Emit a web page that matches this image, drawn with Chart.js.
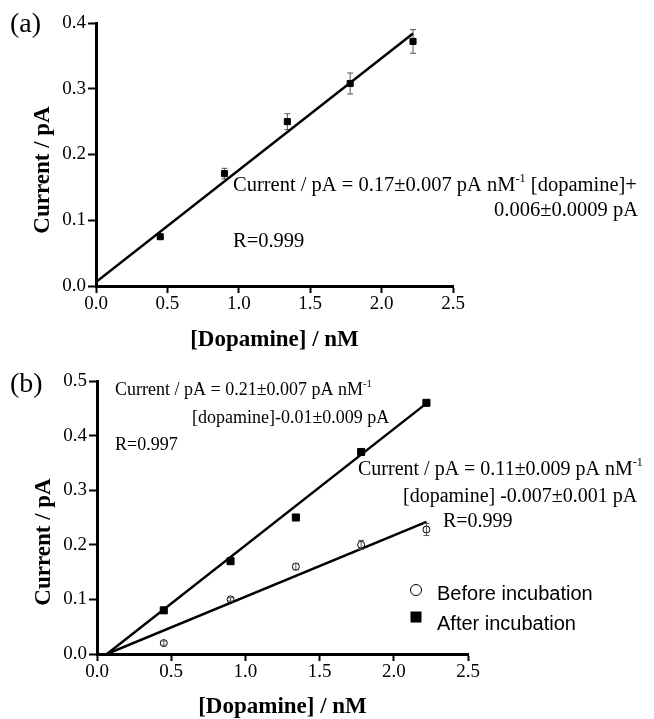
<!DOCTYPE html>
<html>
<head>
<meta charset="utf-8">
<script src="https://cdn.jsdelivr.net/npm/chart.js@4.4.1/dist/chart.umd.min.js"></script>
<style>
  html, body { margin: 0; padding: 0; background: #fff; }
  #wrapA { position: absolute; left: 0; top: 0; width: 654px; height: 360px; }
  #wrapB { position: absolute; left: 0; top: 360px; width: 654px; height: 359px; }
</style>
</head>
<body>
<div id="wrapA"><canvas id="chartA" width="654" height="360"></canvas></div>
<div id="wrapB"><canvas id="chartB" width="654" height="359"></canvas></div>
<script>
// dopamine concentrations (nM)
const conc = [0.45, 0.9, 1.34, 1.78, 2.22];
const xTicks = [0, 0.5, 1.0, 1.5, 2.0, 2.5];

// panel (a)
const currentA = [0.075, 0.171, 0.25, 0.308, 0.372];
const errA = [0.003, 0.008, 0.012, 0.016, 0.018];
const fitAx = [0, 2.22];
const fitAy = [0.006, 0.384];

// panel (b)
const beforeB = [0.02, 0.1, 0.16, 0.2, 0.228];
const errBefore = [0.004, 0.003, 0.006, 0.008, 0.011];
const afterB = [0.08, 0.17, 0.25, 0.37, 0.46];
const errAfter = [0.002, 0.003, 0.003, 0.003, 0.004];
const fitAfterX = [0.067, 2.22];
const fitAfterY = [0, 0.459];
const fitBeforeX = [0.067, 2.22];
const fitBeforeY = [0, 0.242];

const SERIF = '"Liberation Serif", "Times New Roman", serif';
const SANS = '"Liberation Sans", Arial, sans-serif';

function pts(xs, ys) {
    return xs.map((x, i) => ({ x: x, y: ys[i] }));
}

// text with superscript pieces: parts = [[text, isSup], ...]
function richText(ctx, parts, x, y, size, align) {
    ctx.save();
    ctx.textBaseline = 'middle';
    ctx.textAlign = 'left';
    let total = 0;
    parts.forEach(p => {
        ctx.font = (p[1] ? size * 0.6 : size) + 'px ' + SERIF;
        total += ctx.measureText(p[0]).width;
    });
    let cx = align === 'right' ? x - total : x;
    parts.forEach(p => {
        ctx.font = (p[1] ? size * 0.6 : size) + 'px ' + SERIF;
        ctx.fillText(p[0], cx, p[1] ? y - size * 0.35 : y);
        cx += ctx.measureText(p[0]).width;
    });
    ctx.restore();
}

function drawErrors(chart, front) {
    const ctx = chart.ctx;
    const xs = chart.scales.x, ys = chart.scales.y;
    ctx.save();
    ctx.strokeStyle = '#555';
    ctx.lineWidth = 1;
    chart.data.datasets.forEach(ds => {
        if (!ds.errors || !!ds.errorsFront !== front) return;
        ds.data.forEach((p, i) => {
            const px = xs.getPixelForValue(p.x);
            const top = ys.getPixelForValue(p.y + ds.errors[i]);
            const bot = ys.getPixelForValue(p.y - ds.errors[i]);
            ctx.beginPath();
            ctx.moveTo(px, top); ctx.lineTo(px, bot);
            ctx.moveTo(px - 3, top); ctx.lineTo(px + 3, top);
            ctx.moveTo(px - 3, bot); ctx.lineTo(px + 3, bot);
            ctx.stroke();
        });
    });
    ctx.restore();
}

const errorBars = {
    id: 'errorBars',
    beforeDatasetsDraw(chart) { drawErrors(chart, false); },
    afterDatasetsDraw(chart) { drawErrors(chart, true); }
};

const labelsPlugin = {
    id: 'labels',
    afterDraw(chart) {
        const ctx = chart.ctx;
        const o = chart.options.plugins.labels;
        ctx.save();
        ctx.fillStyle = '#000';
        ctx.textBaseline = 'middle';
        // panel letter
        ctx.font = '28px ' + SERIF;
        ctx.textAlign = 'left';
        ctx.fillText(o.letter, 10, 25);
        // y title
        ctx.save();
        ctx.translate(o.yTitle[0], o.yTitle[1]);
        ctx.rotate(-Math.PI / 2);
        ctx.font = 'bold 23px ' + SERIF;
        ctx.textAlign = 'center';
        ctx.fillText('Current / pA', 0, 0);
        ctx.restore();
        o.notes.forEach(n => richText(ctx, n.parts, n.x, n.y, n.size, n.align));
        ctx.restore();
        if (o.legend) {
            ctx.save();
            ctx.lineWidth = 1;
            ctx.strokeStyle = '#000';
            ctx.fillStyle = '#fff';
            ctx.beginPath();
            ctx.arc(416, 230, 5.5, 0, Math.PI * 2);
            ctx.fill(); ctx.stroke();
            ctx.fillStyle = '#000';
            ctx.fillRect(410.5, 251.5, 11, 11);
            ctx.font = '20px ' + SANS;
            ctx.textBaseline = 'middle';
            ctx.fillText('Before incubation', 437, 234);
            ctx.fillText('After incubation', 437, 264);
            ctx.restore();
        }
    }
};

function axes(yMax, xHeight, yWidth) {
    const tickFont = { family: SERIF, size: 19 };
    return {
        x: {
            type: 'linear', min: 0, max: 2.5,
            afterBuildTicks: s => { s.ticks = xTicks.map(v => ({ value: v })); },
            afterFit: s => { s.height = xHeight; },
            grid: { drawOnChartArea: false, tickLength: 7, tickWidth: 2, tickColor: '#000' },
            border: { color: '#000', width: 3 },
            ticks: { color: '#000', font: tickFont, padding: 0, maxRotation: 0,
                     callback: v => v.toFixed(1) },
            title: { display: true, text: '[Dopamine] / nM', color: '#000',
                     font: { family: SERIF, size: 23, weight: 'bold', lineHeight: 1 },
                     padding: 0 }
        },
        y: {
            type: 'linear', min: 0, max: yMax,
            afterFit: s => { s.width = yWidth; },
            grid: { drawOnChartArea: false, tickLength: 8, tickWidth: 2, tickColor: '#000' },
            border: { color: '#000', width: 3 },
            ticks: { color: '#000', font: tickFont, padding: 2, stepSize: 0.1,
                     callback: v => v.toFixed(1) }
        }
    };
}

new Chart(document.getElementById('chartA'), {
    type: 'scatter',
    data: {
        datasets: [
            {
                label: 'fit', type: 'line', data: pts(fitAx, fitAy),
                borderColor: '#000', borderWidth: 2.5, pointRadius: 0, fill: false
            },
            {
                label: 'Current', data: pts(conc, currentA), errors: errA,
                pointStyle: 'rect', pointRadius: 4.3, backgroundColor: '#000', borderColor: '#000'
            }
        ]
    },
    options: {
        responsive: false, animation: false,
        layout: { padding: { left: 0, top: 23, right: 201, bottom: 8.5 } },
        scales: axes(0.4, 65.5, 96),
        plugins: {
            legend: { display: false }, tooltip: { enabled: false },
            labels: {
                letter: '(a)', yTitle: [43, 170],
                notes: [
                    { x: 233, y: 186, size: 20.5, parts: [['Current / pA = 0.17\u00b10.007 pA nM'], ['-1', true], [' [dopamine]+']] },
                    { x: 638, y: 211, size: 20.5, align: 'right', parts: [['0.006\u00b10.0009 pA']] },
                    { x: 233, y: 242, size: 20.5, parts: [['R=0.999']] }
                ]
            }
        }
    },
    plugins: [errorBars, labelsPlugin]
});

new Chart(document.getElementById('chartB'), {
    type: 'scatter',
    data: {
        datasets: [
            {
                label: 'fit after', type: 'line', data: pts(fitAfterX, fitAfterY),
                borderColor: '#000', borderWidth: 2.5, pointRadius: 0, fill: false
            },
            {
                label: 'fit before', type: 'line', data: pts(fitBeforeX, fitBeforeY),
                borderColor: '#000', borderWidth: 2.5, pointRadius: 0, fill: false
            },
            {
                label: 'Before incubation', data: pts(conc, beforeB), errors: errBefore,
                errorsFront: true,
                pointStyle: 'circle', pointRadius: 3.5, backgroundColor: '#fff',
                borderColor: '#000', borderWidth: 1
            },
            {
                label: 'After incubation', data: pts(conc, afterB), errors: errAfter,
                pointStyle: 'rect', pointRadius: 5, backgroundColor: '#000', borderColor: '#000'
            }
        ]
    },
    options: {
        responsive: false, animation: false,
        layout: { padding: { left: 0, top: 21, right: 186, bottom: 0.5 } },
        scales: axes(0.5, 64.5, 97),
        plugins: {
            legend: { display: false }, tooltip: { enabled: false },
            labels: {
                letter: '(b)', yTitle: [44, 182], legend: true,
                notes: [
                    { x: 115, y: 30, size: 18, parts: [['Current / pA = 0.21\u00b10.007 pA nM'], ['-1', true]] },
                    { x: 192, y: 58, size: 18, parts: [['[dopamine]-0.01\u00b10.009 pA']] },
                    { x: 115, y: 85, size: 18, parts: [['R=0.997']] },
                    { x: 358, y: 110, size: 20, parts: [['Current / pA = 0.11\u00b10.009 pA nM'], ['-1', true]] },
                    { x: 403, y: 137, size: 20, parts: [['[dopamine] -0.007\u00b10.001 pA']] },
                    { x: 443, y: 162, size: 20, parts: [['R=0.999']] }
                ]
            }
        }
    },
    plugins: [errorBars, labelsPlugin]
});
</script>
</body>
</html>
